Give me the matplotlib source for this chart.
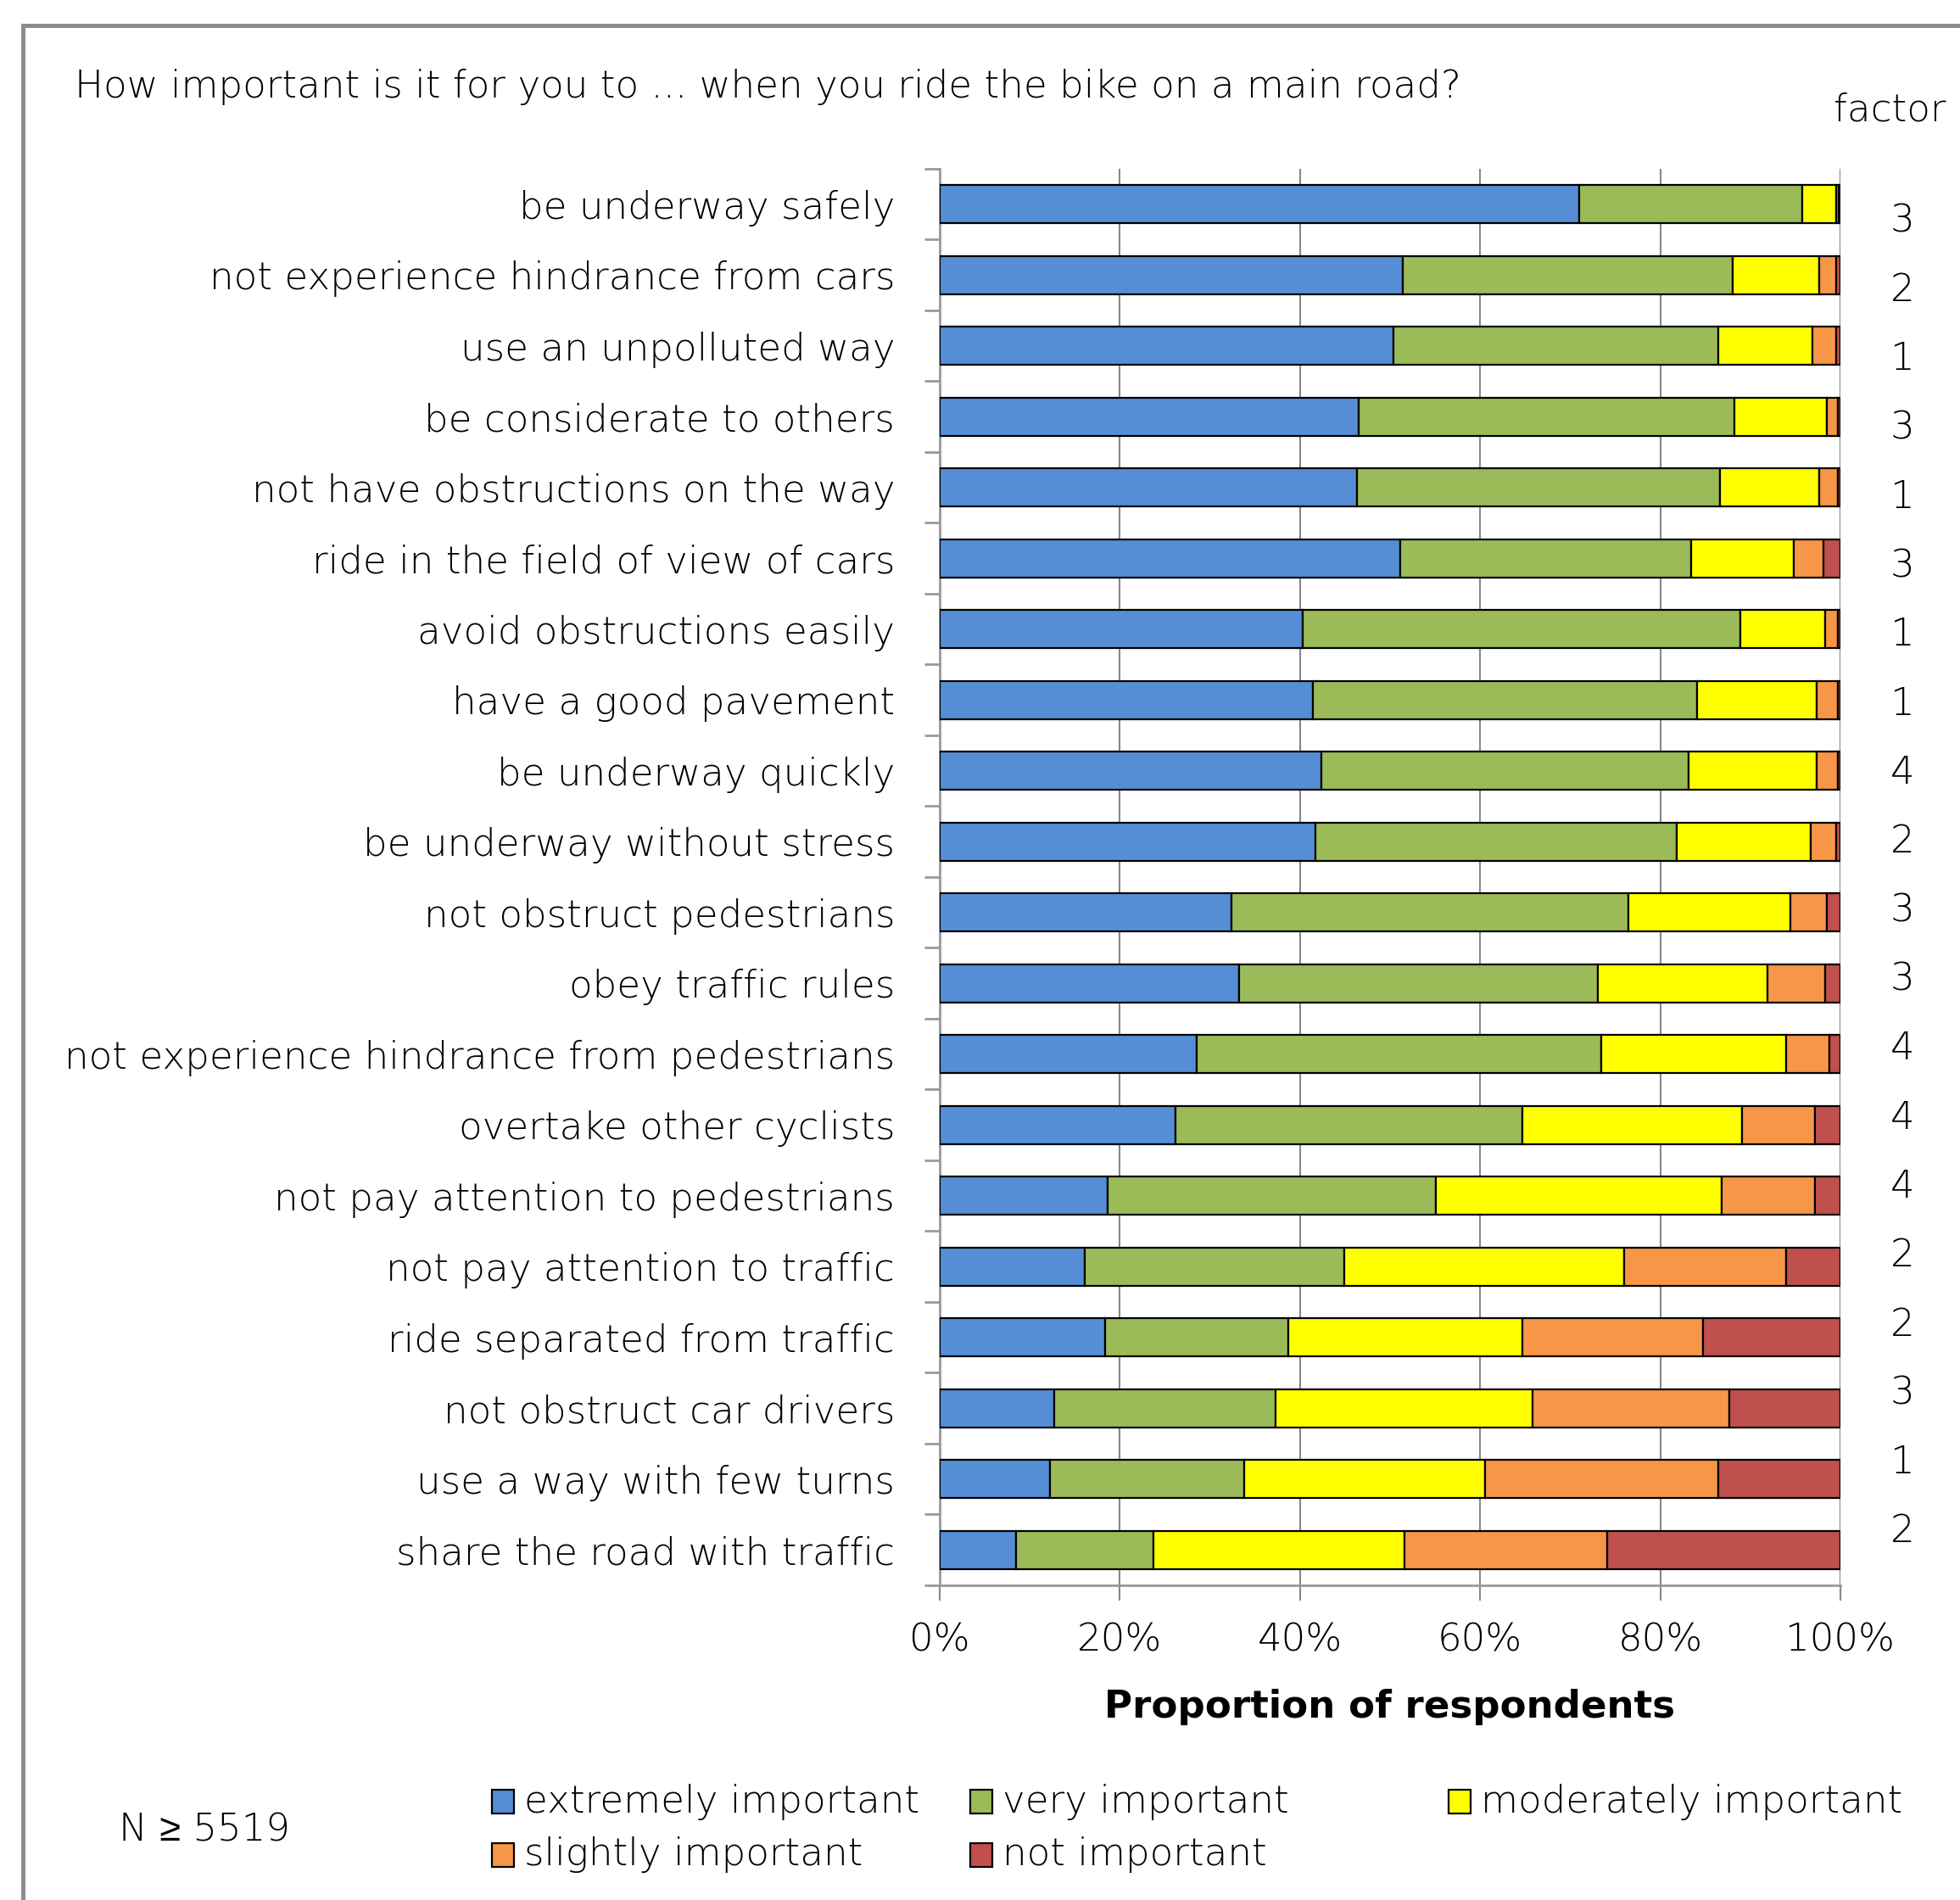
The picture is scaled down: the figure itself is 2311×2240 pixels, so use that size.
import matplotlib
matplotlib.use("Agg")
import matplotlib.pyplot as plt
import numpy as np
from matplotlib.patches import Rectangle

categories = [
    "be underway safely",
    "not experience hindrance from cars",
    "use an unpolluted way",
    "be considerate to others",
    "not have obstructions on the way",
    "ride in the field of view of cars",
    "avoid obstructions easily",
    "have a good pavement",
    "be underway quickly",
    "be underway without stress",
    "not obstruct pedestrians",
    "obey traffic rules",
    "not experience hindrance from pedestrians",
    "overtake other cyclists",
    "not pay attention to pedestrians",
    "not pay attention to traffic",
    "ride separated from traffic",
    "not obstruct car drivers",
    "use a way with few turns",
    "share the road with traffic",
]

extremely = [71.0, 51.4, 50.4, 46.5, 46.3, 51.1, 40.3, 41.4, 42.4, 41.7,
             32.4, 33.2, 28.5, 26.2, 18.6, 16.1, 18.4, 12.7, 12.2, 8.5]
very = [24.8, 36.6, 36.0, 41.7, 40.3, 32.3, 48.6, 42.7, 40.7, 40.1,
        44.1, 39.9, 44.9, 38.5, 36.5, 28.8, 20.3, 24.6, 21.6, 15.2]
moderately = [3.7, 9.6, 10.5, 10.3, 11.0, 11.4, 9.4, 13.3, 14.3, 14.9,
              17.9, 18.8, 20.6, 24.4, 31.7, 31.1, 26.0, 28.5, 26.7, 27.9]
slightly = [0.3, 1.9, 2.6, 1.2, 2.1, 3.3, 1.4, 2.3, 2.3, 2.8,
            4.1, 6.4, 4.8, 8.1, 10.4, 18.0, 20.0, 21.9, 25.9, 22.5]
not_important = [0.2, 0.5, 0.5, 0.3, 0.3, 1.9, 0.3, 0.3, 0.3, 0.5,
                 1.5, 1.7, 1.2, 2.8, 2.8, 6.0, 15.3, 12.3, 13.6, 25.9]

factors = [3, 2, 1, 3, 1, 3, 1, 1, 4, 2, 3, 3, 4, 4, 4, 2, 2, 3, 1, 2]

series_names = ["extremely important", "very important", "moderately important",
                "slightly important", "not important"]
xticks = [0, 20, 40, 60, 80, 100]
xtick_labels = ["0%", "20%", "40%", "60%", "80%", "100%"]

colors = ["#558ED5", "#9BBB59", "#FFFF00", "#F79646", "#C0504D"]

plt.rcParams["font.family"] = ["DejaVu Sans", "Liberation Sans"]
plt.rcParams["font.weight"] = "light"
FS = 32.5
TXT = "#000000"

W, H = 2311, 2240
DPI = 100
fig = plt.figure(figsize=(W / DPI, H / DPI), dpi=DPI)

def fx(px):
    return px / W

def fy(py):
    return 1 - py / H

ax_left, ax_right, ax_top, ax_bot = 1108, 2170, 199, 1869
ax = fig.add_axes([fx(ax_left), fy(ax_bot), fx(ax_right - ax_left), (ax_bot - ax_top) / H])

y = np.arange(len(categories))
data = [extremely, very, moderately, slightly, not_important]
left = np.zeros(len(categories))
for vals, col, name in zip(data, colors, series_names):
    vals = np.array(vals)
    ax.barh(y, vals, left=left, height=0.54, color=col, edgecolor="black",
            linewidth=1.6, label=name, zorder=3)
    left += vals

ax.set_xlim(0, 100)
ax.set_ylim(len(categories) - 0.5, -0.5)
ax.set_xticks(xticks)
ax.set_xticklabels(xtick_labels, fontsize=FS, color=TXT)
ax.set_yticks(y)
ax.set_yticklabels(categories, fontsize=FS, color=TXT)
ax.tick_params(axis="y", which="major", length=0, pad=38)
ax.set_yticks(np.arange(-0.5, len(categories), 1.0), minor=True)
ax.tick_params(axis="y", which="minor", length=13, width=2.0, color="#999999", direction="out")
ax.tick_params(axis="x", length=13, width=1.5, color="#888888", pad=18)
ax.grid(axis="x", color="#888888", linewidth=1.5, zorder=0)
for s in ["top", "right"]:
    ax.spines[s].set_visible(False)
ax.spines["left"].set_color("#999999")
ax.spines["left"].set_linewidth(2.0)
ax.spines["bottom"].set_color("#999999")
ax.spines["bottom"].set_linewidth(2.0)
ax.set_xlabel("Proportion of respondents", fontsize=FS, fontweight="bold", labelpad=26)

# title
fig.text(fx(88), fy(103), "How important is it for you to ... when you ride the bike on a main road?",
         fontsize=FS, ha="left", va="center", color=TXT)
fig.text(fx(2162), fy(130), "factor", fontsize=FS, ha="left", va="center", color=TXT)

# factor numbers
fy_pos = np.linspace(261, 1806, len(factors))
for f, py in zip(factors, fy_pos):
    fig.text(fx(2243), fy(py), str(f), fontsize=FS, ha="center", va="center", color=TXT)

# legend (manual)
leg_cols = [580, 1144, 1708]
leg_rows = [2124, 2187]
order = [(0, 0), (0, 1), (0, 2), (1, 0), (1, 1)]
for (r, c), name, col in zip(order, series_names, colors):
    x0 = leg_cols[c]
    yc = leg_rows[r]
    fig.add_artist(Rectangle((fx(x0), fy(yc + 14)), fx(26), 28 / H, transform=fig.transFigure,
                             facecolor=col, edgecolor="black", linewidth=1.6))
    fig.text(fx(x0 + 38), fy(yc), name, fontsize=FS, ha="left", va="center", color=TXT)

fig.text(fx(140), fy(2158), "N \u2265 5519", fontsize=FS, ha="left", va="center", color=TXT,
         family=["DejaVu Sans", "Liberation Sans"])

# frame
fig.add_artist(Rectangle((fx(27), fy(H + 50)), fx(W + 100), (H + 50 - 30) / H,
                         transform=fig.transFigure, facecolor="none",
                         edgecolor="#8a8a8a", linewidth=3.5))

fig.savefig("out.png", dpi=DPI)
